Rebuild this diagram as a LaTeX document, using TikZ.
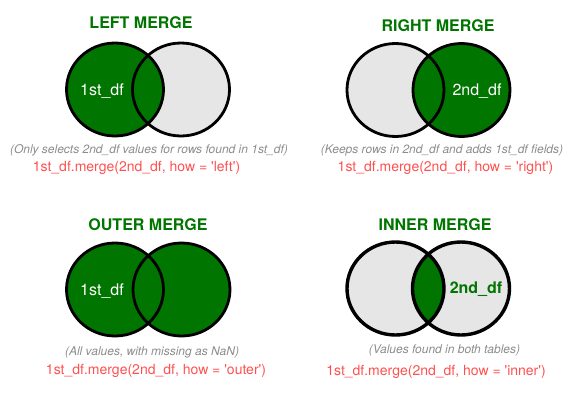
\documentclass[tikz,border=0pt]{standalone}
\usepackage{fontspec}
\setmainfont{TeX Gyre Heros}
\definecolor{verde}{RGB}{0,117,0}
\definecolor{grigio}{RGB}{230,230,230}
\definecolor{nota}{RGB}{140,140,140}
\definecolor{rosso}{RGB}{255,80,80}

\begin{document}
\begin{tikzpicture}[x=1pt,y=-1pt]
\tikzstyle{insieme} = [draw=black, line width=2.8pt]
\tikzstyle{titolo} = [inner sep=0, text=verde, font=\fontsize{16}{18}\selectfont\bfseries]
\tikzstyle{etichetta} = [inner sep=0, text=white, font=\fontsize{16}{18}\selectfont]
\tikzstyle{spiega} = [inner sep=0, text=nota, font=\fontsize{12}{14}\selectfont\itshape]
\tikzstyle{codice} = [inner sep=0, text=rosso, font=\fontsize{14}{16}\selectfont]
\tikzset{cerchio/.style={x radius=48.5, y radius=46.5}}
\def\q{\textquotesingle}

\useasboundingbox (0,0) rectangle (582,402);

% Centri dei cerchi
\coordinate (L-a) at (115,89.5);   \coordinate (L-b) at (181,89.5);
\coordinate (R-a) at (395.5,90);   \coordinate (R-b) at (461.5,90);
\coordinate (O-a) at (115,289.5);  \coordinate (O-b) at (181.5,289.5);
\coordinate (I-a) at (395.5,288.5);\coordinate (I-b) at (461,288.5);

% LEFT MERGE
\fill[grigio] (L-b) ellipse [cerchio];
\fill[verde] (L-a) ellipse [cerchio];
\draw[insieme] (L-a) ellipse [cerchio] (L-b) ellipse [cerchio];

% RIGHT MERGE
\fill[grigio] (R-a) ellipse [cerchio];
\fill[verde] (R-b) ellipse [cerchio];
\draw[insieme] (R-a) ellipse [cerchio] (R-b) ellipse [cerchio];

% OUTER MERGE
\fill[verde] (O-a) ellipse [cerchio] (O-b) ellipse [cerchio];
\draw[insieme] (O-a) ellipse [cerchio] (O-b) ellipse [cerchio];

% INNER MERGE
\fill[grigio] (I-a) ellipse [cerchio] (I-b) ellipse [cerchio];
\begin{scope}
  \clip (I-a) ellipse [cerchio];
  \fill[verde] (I-b) ellipse [cerchio];
\end{scope}
\draw[insieme, line width=3.4pt] (I-a) ellipse [cerchio] (I-b) ellipse [cerchio];

% Titoli
\foreach \x/\y/\testo [count=\i] in {141/23/LEFT MERGE, 438/26/RIGHT MERGE,
    148/224.5/OUTER MERGE, 435/224.5/INNER MERGE} {
  \node[titolo] (titolo-\i) at (\x,\y) {\testo};
}

% Etichette dentro i cerchi
\node[etichetta] (df-L) at (102,91) {1st\_df};
\node[etichetta] (df-R) at (477,91) {2nd\_df};
\node[etichetta] (df-O) at (102,291) {1st\_df};
\node[etichetta, text=verde, font=\fontsize{16}{18}\selectfont\bfseries] (df-I) at (476,289) {2nd\_df};

% Spiegazioni
\node[spiega] (nota-L) at (149,150) {(Only selects 2nd\_df values for rows found in 1st\_df)};
\node[spiega] (nota-R) at (442,150) {(Keeps rows in 2nd\_df and adds 1st\_df fields)};
\node[spiega] (nota-O) at (152,352) {(All values, with missing as NaN)};
\node[spiega] (nota-I) at (444.5,350) {(Values found in both tables)};

% Codice
\foreach \x/\y/\how [count=\i] in {136.5/168/left, 445.5/168/right, 156/371/outer, 436/372/inner} {
  \node[codice] (codice-\i) at (\x,\y) {1st\_df.merge(2nd\_df, how = \q\how\q)};
}

\end{tikzpicture}
\end{document}
